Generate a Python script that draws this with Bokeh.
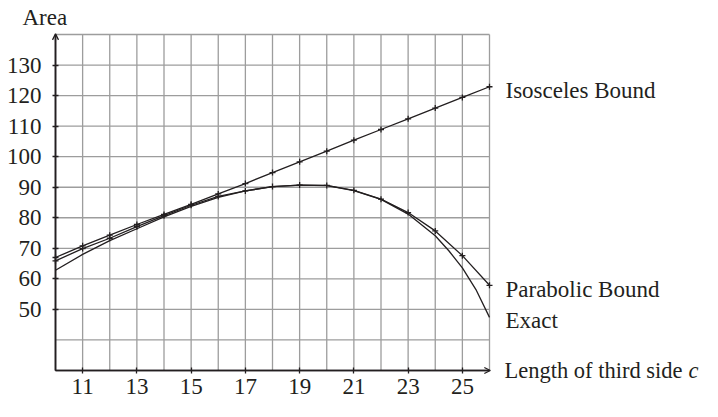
from bokeh.plotting import figure
from bokeh.models import Range1d, FixedTicker, Label, Arrow, OpenHead
from bokeh.embed import file_html
from bokeh.resources import INLINE

# Data
side_c = [10, 11, 12, 13, 14, 15, 16, 17, 18, 19, 20, 21, 22, 23, 24, 25, 26]
isosceles = [67.0, 70.8, 74.3, 77.8, 81.1, 84.4, 87.8, 91.2, 94.8, 98.3,
             101.8, 105.4, 108.9, 112.4, 115.9, 119.4, 122.9]
parabolic = [65.9, 69.9, 73.3, 77.1, 80.7, 84.1, 87.0, 88.8, 90.2, 90.7,
             90.6, 89.0, 86.1, 81.7, 75.7, 67.6, 57.9]
exact_c = [10, 11, 12, 13, 14, 15, 16, 17, 18, 19, 20, 21, 22, 23, 24, 24.5, 25, 25.5, 26]
exact = [62.8, 68.0, 72.5, 76.4, 80.3, 83.7, 86.7, 88.8, 90.2, 90.7,
         90.5, 88.9, 86.0, 81.2, 74.1, 69.2, 63.6, 56.5, 47.4]
x_ticks = [11, 13, 15, 17, 19, 21, 23, 25]
y_ticks = [50, 60, 70, 80, 90, 100, 110, 120, 130]
grid_x = list(range(10, 27))
grid_y = list(range(40, 141, 10))
X0, X1 = 10, 26
Y0, Y1 = 30, 140

FONT = "Liberation Serif"
FS = "23px"
INK = "#231f20"
GRID = "#9d9d9d"

W, H = 702, 401
# frame covers the whole canvas; axes are pinned at c=10 and Area=30
AX_LEFT, AX_BOTTOM, AX_TOP = 55, 370, 34
xs = (489 - AX_LEFT) / (X1 - X0)
ys = (AX_BOTTOM - AX_TOP) / (Y1 - Y0)
x_start = X0 - AX_LEFT / xs
x_end = X0 + (W - AX_LEFT) / xs
y_start = Y0 - (H - AX_BOTTOM) / ys
y_end = Y0 + AX_BOTTOM / ys

p = figure(width=W, height=H, x_range=Range1d(x_start, x_end), y_range=Range1d(y_start, y_end),
           output_backend="svg", toolbar_location=None,
           min_border_left=0, min_border_right=0, min_border_top=0, min_border_bottom=0)
p.background_fill_color = "white"
p.border_fill_color = "white"
p.outline_line_color = None
p.grid.visible = False

# grid (only inside the axis box)
p.segment(x0=grid_x, y0=[Y0] * len(grid_x), x1=grid_x, y1=[Y1] * len(grid_x),
          line_color=GRID, line_width=1.3)
p.segment(x0=[X0] * len(grid_y), y0=grid_y, x1=[X1] * len(grid_y), y1=grid_y,
          line_color=GRID, line_width=1.3)

p.xaxis.ticker = FixedTicker(ticks=x_ticks)
p.yaxis.ticker = FixedTicker(ticks=y_ticks)
p.xaxis.fixed_location = Y0
p.yaxis.fixed_location = X0
p.xaxis.bounds = (X0, X1)
p.yaxis.bounds = (Y0, Y1)
for ax in (p.xaxis, p.yaxis):
    ax.axis_line_color = INK
    ax.axis_line_width = 1.5
    ax.major_tick_line_color = INK
    ax.major_tick_line_width = 1.3
    ax.major_tick_in = 3
    ax.major_tick_out = 3
    ax.minor_tick_line_color = None
    ax.major_label_text_font = FONT
    ax.major_label_text_font_size = FS
    ax.major_label_text_color = INK
p.xaxis.major_label_standoff = 5
p.yaxis.major_label_standoff = 11

# axis arrows
p.add_layout(Arrow(end=OpenHead(size=6, line_width=1.3, line_color=INK),
                   x_start=X0, y_start=Y0, x_end=X1 + 0.03, y_end=Y0,
                   line_width=1.5, line_color=INK))
p.add_layout(Arrow(end=OpenHead(size=6, line_width=1.3, line_color=INK),
                   x_start=X0, y_start=Y0, x_end=X0, y_end=Y1 + 0.2,
                   line_width=1.5, line_color=INK))

# curves
p.line(side_c, isosceles, line_color=INK, line_width=1.3)
p.scatter(side_c, isosceles, marker="cross", size=6, line_color=INK, line_width=1.3)
p.line(side_c, parabolic, line_color=INK, line_width=1.3)
p.scatter(side_c, parabolic, marker="cross", size=6, line_color=INK, line_width=1.3)
p.line(exact_c, exact, line_color=INK, line_width=1.3)

def lab(x, y, t, style="normal", size=FS):
    p.add_layout(Label(x=x, y=y, text=t, text_font=FONT, text_font_size=size,
                       text_color=INK, text_baseline="middle", text_align="left",
                       text_font_style=style))

LX = X0 + (505 - AX_LEFT) / xs
lab(LX, 121.8, "Isosceles Bound")
lab(LX, 56.4, "Parabolic Bound")
lab(LX, 46.4, "Exact")
LX2 = X0 + (504 - AX_LEFT) / xs
lab(LX2, 30.1, "Length of third side", size="22.5px")
lab(LX2 + 184 / xs, 30.1, "c", style="italic", size="22.5px")
lab(X0 + (22 - AX_LEFT) / xs, Y0 + (AX_BOTTOM - 17) / ys, "Area")

open("out.html", "w").write(file_html(p, INLINE))
